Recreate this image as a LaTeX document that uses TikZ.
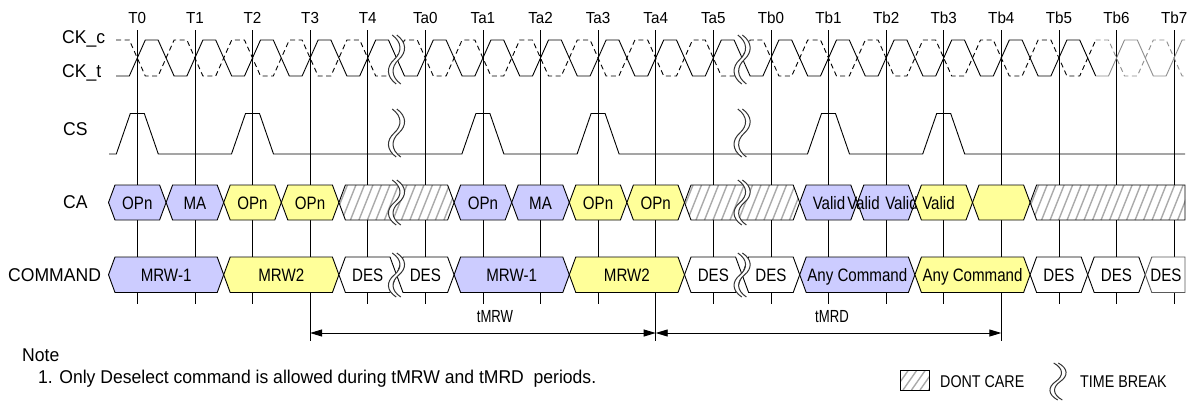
\documentclass[tikz,border=0pt]{standalone}
\usepackage{fontspec}
\setmainfont{Liberation Sans}
\newfontfamily\mf{Liberation Sans}[FakeStretch=0.95]
\newfontfamily\cf{Liberation Sans}[FakeStretch=0.84]
\newfontfamily\nf{Liberation Sans}[FakeStretch=0.75]
\usetikzlibrary{arrows.meta}
\definecolor{bluefill}{RGB}{204,204,255}
\definecolor{yelfill}{RGB}{255,255,153}
\definecolor{hatchc}{RGB}{170,170,170}

% hexagon signal box: x1 x2 ytop ybot leftslant rightslant style
\newcommand\hexbox[7]{\path[#7] ({#1},{(#3+#4)/2}) -- ({#1+#5},#3) -- ({#2-#6},#3) -- ({#2},{(#3+#4)/2}) -- ({#2-#6},#4) -- ({#1+#5},#4) -- cycle;}
% don't care box
\newcommand\dcbox[7]{%
 \begin{scope}
  \clip ({#1},{(#3+#4)/2}) -- ({#1+#5},#3) -- ({#2-#6},#3) -- ({#2},{(#3+#4)/2}) -- ({#2-#6},#4) -- ({#1+#5},#4) -- cycle;
  \fill[white] (#1,#3) rectangle (#2,#4);
  \foreach \h in {0,8.5,...,220} {\draw[hatchline] ({#1+\h-14},#4) -- ({#1+\h},#3);}
 \end{scope}
 \hexbox{#1}{#2}{#3}{#4}{#5}{#6}{draw=#7,boxline}}
% time break: x ytop ybot
\newcommand\tbreak[3]{%
 \draw[white,line width=4pt] ({#1-2},#2) .. controls ({#1+8},{#2+0.15*(#3-#2)}) and ({#1+8},{#2+0.35*(#3-#2)}) .. ({#1},{(#2+#3)/2}) .. controls ({#1-8},{#2+0.65*(#3-#2)}) and ({#1-8},{#2+0.85*(#3-#2)}) .. ({#1+2},#3);
 \foreach \o in {-2.3,2.3} {\draw[breakline] ({#1-2+\o},#2) .. controls ({#1+8+\o},{#2+0.15*(#3-#2)}) and ({#1+8+\o},{#2+0.35*(#3-#2)}) .. ({#1+\o},{(#2+#3)/2}) .. controls ({#1-8+\o},{#2+0.65*(#3-#2)}) and ({#1-8+\o},{#2+0.85*(#3-#2)}) .. ({#1+2+\o},#3);}}

\begin{document}
\begin{tikzpicture}[x=1pt,y=-1pt,
  tl/.style={font=\mf\fontsize{16}{18}\selectfont, anchor=base, inner sep=0pt},
  sl/.style={font=\mf\fontsize{18.5}{20}\selectfont, anchor=base west, inner sep=0pt},
  bt/.style={font=\cf\fontsize{18}{20}\selectfont, anchor=base, inner sep=0pt},
  nt/.style={font=\nf\fontsize{17.5}{20}\selectfont, anchor=base, inner sep=0pt},
  vline/.style={line width=0.8pt},
  sig/.style={line width=0.9pt},
  boxline/.style={line width=0.9pt},
  hatchline/.style={draw=hatchc, line width=1.4pt},
  breakline/.style={draw=black!80, line width=1pt},
  dim/.style={line width=0.9pt, {Triangle[length=12pt,width=7pt]}-{Triangle[length=12pt,width=7pt]}},
  bluebox/.style={fill=bluefill, draw=black, boxline},
  yelbox/.style={fill=yelfill, draw=black, boxline},
  whitebox/.style={fill=white, draw=black, boxline}]
\useasboundingbox (0,0) rectangle (1196,405);

% time lines and labels
\foreach \lab [count=\i from 0] in {T0,T1,T2,T3,T4,Ta0,Ta1,Ta2,Ta3,Ta4,Ta5,Tb0,Tb1,Tb2,Tb3,Tb4,Tb5,Tb6,Tb7} {
  \coordinate (c\i) at ({137.3+57.6*\i},30);
  \node[tl] (l\i) at ({137.3+57.6*\i},23) {\lab};
  \draw[vline] (c\i) -- ++(0,274);
}
\foreach \i in {3,9,15} {\draw[vline] (c\i) ++(0,270) -- ++(0,41);}

% signal names
\node[sl] (ckc) at (62,43) {CK\_c};
\node[sl] (ckt) at (62,77) {CK\_t};
\node[sl] (cs) at (63,135) {CS};
\node[sl] (ca) at (63,208) {CA};
\node[sl] (cmd) at (8,281) {COMMAND};

% clocks
\draw[sig] (116,76) foreach \k in {0,2,...,32} { -- ({137.3+28.8*\k-8},76) -- ({137.3+28.8*\k+8},40) -- ({137.3+28.8*\k+20.8},40) -- ({137.3+28.8*\k+36.8},76) };
\draw[sig,black!45] (1095.7,76) -- (1108.5,76) -- (1124.5,40) -- (1137.3,40) -- (1153.3,76) -- (1166.1,76) -- (1182.1,40) -- (1185,40);
\draw[sig,dash pattern=on 5pt off 3.5pt] (116,40) foreach \k in {0,2,...,32} { -- ({137.3+28.8*\k-8},40) -- ({137.3+28.8*\k+8},76) -- ({137.3+28.8*\k+20.8},76) -- ({137.3+28.8*\k+36.8},40) };
\draw[sig,black!45,dash pattern=on 5pt off 3.5pt] (1095.7,40) -- (1108.5,40) -- (1124.5,76) -- (1137.3,76) -- (1153.3,40) -- (1166.1,40) -- (1182.1,76) -- (1185,76);

% CS
\draw[sig] (109,154) foreach \p in {0,2,6,8,12,14} { -- ({137.3+57.6*\p-21},154) -- ({137.3+57.6*\p-7},113.5) -- ({137.3+57.6*\p+7},113.5) -- ({137.3+57.6*\p+21},154) } -- (1185,154);

% CA row
\hexbox{108.5}{166.1}{185}{220}{6.5}{6.5}{bluebox}
\hexbox{166.1}{223.7}{185}{220}{6.5}{6.5}{bluebox}
\hexbox{223.7}{281.3}{185}{220}{6.5}{6.5}{yelbox}
\hexbox{281.3}{338.9}{185}{220}{6.5}{6.5}{yelbox}
\dcbox{338.9}{454.1}{185}{220}{6.5}{6.5}{black}
\hexbox{454.1}{511.7}{185}{220}{6.5}{6.5}{bluebox}
\hexbox{511.7}{569.3}{185}{220}{6.5}{6.5}{bluebox}
\hexbox{569.3}{626.9}{185}{220}{6.5}{6.5}{yelbox}
\hexbox{626.9}{684.5}{185}{220}{6.5}{6.5}{yelbox}
\dcbox{684.5}{799.7}{185}{220}{6.5}{6.5}{black}
\hexbox{799.7}{857.3}{185}{220}{6.5}{6.5}{bluebox}
\hexbox{857.3}{914.9}{185}{220}{6.5}{6.5}{bluebox}
\node[bt] (v1) at (829,209) {Valid};
\node[bt] (v2) at (863.5,209) {Valid};
\node[bt] (v3) at (901.5,209) {Valid};
\hexbox{914.9}{972.5}{185}{220}{6.5}{6.5}{yelbox}
\hexbox{972.5}{1030.1}{185}{220}{6.5}{6.5}{yelbox}
\dcbox{1030.1}{1185}{185}{220}{6.5}{0}{black}
\node[bt] (v4) at (938.5,209) {Valid};
\node[bt] (a1) at (137.3,209) {OPn};
\node[bt] (a2) at (194.9,209) {MA};
\node[bt] (a3) at (252.5,209) {OPn};
\node[bt] (a4) at (310.1,209) {OPn};
\node[bt] (a5) at (482.9,209) {OPn};
\node[bt] (a6) at (540.5,209) {MA};
\node[bt] (a7) at (598.1,209) {OPn};
\node[bt] (a8) at (655.7,209) {OPn};

% COMMAND row
\hexbox{108.5}{223.7}{257}{292.5}{6.5}{6.5}{bluebox}
\hexbox{223.7}{338.9}{257}{292.5}{6.5}{6.5}{yelbox}
\hexbox{338.9}{396.5}{257}{292.5}{6.5}{6.5}{whitebox}
\hexbox{396.5}{454.1}{257}{292.5}{6.5}{6.5}{whitebox}
\hexbox{454.1}{569.3}{257}{292.5}{6.5}{6.5}{bluebox}
\hexbox{569.3}{684.5}{257}{292.5}{6.5}{6.5}{yelbox}
\hexbox{684.5}{742.1}{257}{292.5}{6.5}{6.5}{whitebox}
\hexbox{742.1}{799.7}{257}{292.5}{6.5}{6.5}{whitebox}
\hexbox{799.7}{914.9}{257}{292.5}{6.5}{6.5}{bluebox}
\hexbox{914.9}{1030.1}{257}{292.5}{6.5}{6.5}{yelbox}
\hexbox{1030.1}{1087.7}{257}{292.5}{6.5}{6.5}{whitebox}
\hexbox{1087.7}{1145.3}{257}{292.5}{6.5}{6.5}{whitebox}
\hexbox{1145.3}{1185}{257}{292.5}{6.5}{0}{fill=white,draw=black!65,boxline}
\node[bt] (m1) at (166.1,281.5) {MRW-1};
\node[bt] (m2) at (281.3,281.5) {MRW2};
\node[bt] (m3) at (367.7,281.5) {DES};
\node[bt] (m4) at (425.3,281.5) {DES};
\node[bt] (m5) at (511.7,281.5) {MRW-1};
\node[bt] (m6) at (626.9,281.5) {MRW2};
\node[bt] (m7) at (713.3,281.5) {DES};
\node[bt] (m8) at (770.9,281.5) {DES};
\node[bt] (m9) at (857.3,281.5) {Any Command};
\node[bt] (m10) at (972.5,281.5) {Any Command};
\node[bt] (m11) at (1058.9,281.5) {DES};
\node[bt] (m12) at (1116.5,281.5) {DES};
\node[bt] (m13) at (1166,281.5) {DES};

% time breaks
\foreach \bx in {396.5,742.1} {
  \tbreak{\bx}{35}{84}
  \tbreak{\bx}{109}{157}
  \tbreak{\bx}{180}{225}
  \tbreak{\bx}{253}{297}
}

% timing parameters
\coordinate (d0) at (310.1,333);
\coordinate (d1) at (655.7,333);
\coordinate (d2) at (1001.3,333);
\draw[dim] (d0) -- (d1);
\draw[dim] (d1) -- (d2);
\node[nt] (tmrw) at (495,322) {tMRW};
\node[nt] (tmrd) at (832,322) {tMRD};

% note
\node[sl,font=\mf\fontsize{18.5}{20}\selectfont] (note) at (22,361) {Note};
\node[sl,font=\mf\fontsize{18.5}{20}\selectfont] (note1) at (38,383) {1. Only Deselect command is allowed during tMRW and tMRD~ periods.};

% legend
\dcbox{900}{929}{370}{390}{0}{0}{black}
\node[sl,font=\cf\fontsize{17}{18}\selectfont] (dc) at (940,387) {DONT CARE};
\tbreak{1058}{363}{400}
\node[sl,font=\cf\fontsize{17}{18}\selectfont] (tb) at (1080,387) {TIME BREAK};
\end{tikzpicture}
\end{document}
